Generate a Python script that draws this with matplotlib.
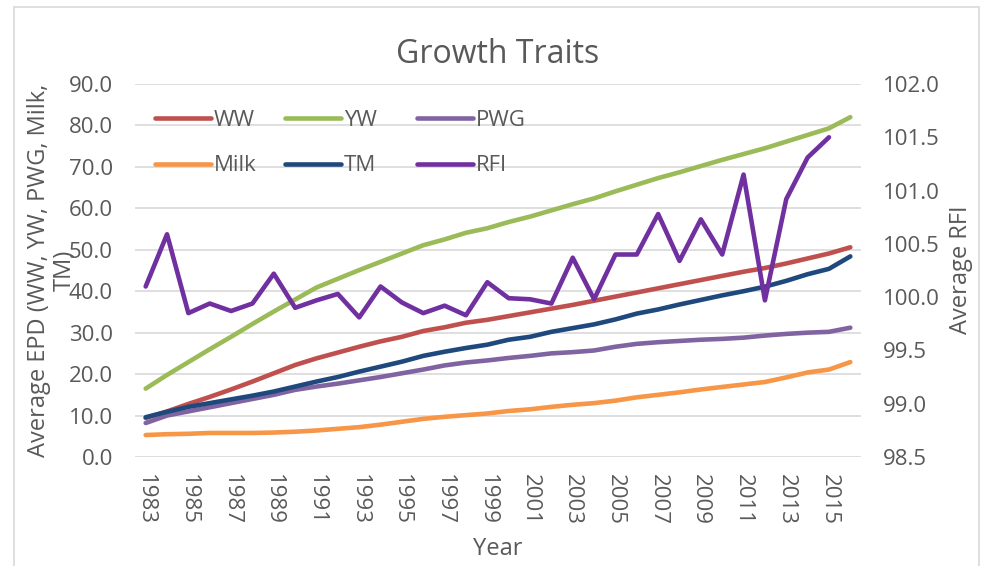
import numpy as np
import matplotlib
matplotlib.use("Agg")
import matplotlib.pyplot as plt
from matplotlib.patches import Rectangle

plt.rcParams['font.family'] = ['Open Sans', 'DejaVu Sans']

years = list(range(1983, 2017))
ww = [9.4, 11.0, 12.8, 14.5, 16.3, 18.2, 20.2, 22.2, 23.8, 25.2, 26.6, 27.9, 29.0, 30.4, 31.3, 32.4, 33.1,
      34.0, 34.9, 35.8, 36.7, 37.7, 38.7, 39.7, 40.7, 41.7, 42.7, 43.7, 44.7, 45.6, 46.7, 47.9, 49.1, 50.6]
yw = [16.5, 19.8, 22.9, 26.0, 29.0, 32.1, 35.1, 38.0, 40.9, 43.0, 45.1, 47.1, 49.1, 51.1, 52.5, 54.1, 55.2,
      56.7, 58.0, 59.5, 61.0, 62.4, 64.1, 65.7, 67.3, 68.7, 70.2, 71.7, 73.1, 74.5, 76.1, 77.7, 79.3, 82.0]
pwg = [8.2, 10.0, 11.0, 12.0, 13.0, 14.0, 15.0, 16.2, 17.0, 17.7, 18.5, 19.3, 20.2, 21.1, 22.1, 22.8, 23.3,
       23.9, 24.4, 25.0, 25.3, 25.7, 26.6, 27.3, 27.7, 28.0, 28.3, 28.5, 28.8, 29.3, 29.7, 30.0, 30.2, 31.2]
milk = [5.3, 5.5, 5.6, 5.8, 5.8, 5.8, 5.9, 6.1, 6.4, 6.8, 7.2, 7.8, 8.5, 9.2, 9.7, 10.1, 10.5,
        11.1, 11.5, 12.1, 12.6, 13.0, 13.6, 14.4, 15.0, 15.6, 16.3, 16.9, 17.5, 18.1, 19.2, 20.4, 21.1, 22.9]
tm = [9.6, 10.9, 12.1, 13.0, 13.9, 14.8, 15.8, 17.0, 18.2, 19.3, 20.6, 21.8, 23.0, 24.4, 25.4, 26.3, 27.1,
      28.3, 29.0, 30.2, 31.1, 32.0, 33.2, 34.6, 35.6, 36.8, 37.9, 39.0, 40.0, 41.1, 42.5, 44.1, 45.4, 48.4]
rfi = [100.10, 100.59, 99.85, 99.94, 99.87, 99.94, 100.22, 99.90, 99.97, 100.03, 99.81, 100.10, 99.95,
       99.85, 99.92, 99.83, 100.14, 99.99, 99.98, 99.94, 100.37, 99.98, 100.40, 100.40, 100.78, 100.34,
       100.73, 100.40, 101.15, 99.97, 100.92, 101.31, 101.50, np.nan]

left_ticks = [0, 10, 20, 30, 40, 50, 60, 70, 80, 90]
right_ticks = [98.5, 99.0, 99.5, 100.0, 100.5, 101.0, 101.5, 102.0]

colors = {'WW': '#C0504D', 'YW': '#9BBB59', 'PWG': '#8064A2',
          'Milk': '#F79646', 'TM': '#1F497D', 'RFI': '#7030A0'}
TXT = '#595959'
GRID = '#D9D9D9'

W, H = 984, 566
fig = plt.figure(figsize=(W / 100, H / 100), dpi=100)
fig.add_artist(Rectangle((14 / W, -0.02), (979 - 14) / W, (566 - 7) / H + 0.02,
                         transform=fig.transFigure, fill=False, edgecolor=GRID, lw=1.2))

ax = fig.add_axes([135 / W, 1 - 457 / H, 726 / W, 373 / H])
x = np.arange(len(years))
lw = 3.3
lines = {}
for name, vals in [('WW', ww), ('YW', yw), ('PWG', pwg), ('Milk', milk), ('TM', tm)]:
    lines[name], = ax.plot(x, vals, color=colors[name], lw=lw, solid_capstyle='round',
                           solid_joinstyle='round', label=name)
ax.set_xlim(-0.5, len(years) - 0.5)
ax.set_ylim(0, 90)
ax.set_yticks(left_ticks)
ax.set_yticklabels([f"{v:.1f}" for v in left_ticks])
ax.set_xticks(x[::2])
ax.set_xticklabels([str(y) for y in years[::2]], rotation=-90)
ax.grid(axis='y', color=GRID, lw=1.2)
ax.set_axisbelow(True)
for s in ax.spines.values():
    s.set_visible(False)
ax.tick_params(axis='y', length=0, pad=16, labelsize=16, labelcolor=TXT)
ax.tick_params(axis='x', length=0, pad=12, labelsize=16, labelcolor=TXT)

ax2 = ax.twinx()
lines['RFI'], = ax2.plot(x, rfi, color=colors['RFI'], lw=lw, solid_capstyle='round',
                         solid_joinstyle='round', label='RFI')
ax2.set_ylim(98.5, 102.0)
ax2.set_yticks(right_ticks)
ax2.set_yticklabels([f"{v:.1f}" for v in right_ticks])
for s in ax2.spines.values():
    s.set_visible(False)
ax2.tick_params(axis='y', length=0, pad=16, labelsize=16, labelcolor=TXT)

fig.text(498 / W, 1 - 63 / H, "Growth Traits", ha='center', va='baseline', fontsize=23, color=TXT)
fig.text(498 / W, 1 - 555 / H, "Year", ha='center', va='baseline', fontsize=17, color=TXT)
fig.text(52 / W, 1 - 270 / H, "Average EPD (WW, YW, PWG, Milk,\nTM)", rotation=90,
         ha='center', va='center', multialignment='center', fontsize=17, color=TXT, linespacing=1.1)
fig.text(961 / W, 1 - 270 / H, "Average RFI", rotation=90, ha='center', va='center',
         fontsize=17, color=TXT)

cols = [(['WW', 'Milk'], 155), (['YW', 'TM'], 285), (['PWG', 'RFI'], 417)]
for names, px in cols:
    fig.legend([lines[n] for n in names], names, loc='upper left',
               bbox_to_anchor=(px / W, 1 - 110 / H), bbox_transform=fig.transFigure,
               frameon=False, fontsize=16, handlelength=2.5, handletextpad=0.15,
               labelspacing=1.1, borderpad=0, borderaxespad=0, labelcolor=TXT)

fig.savefig("out.png", dpi=100)
